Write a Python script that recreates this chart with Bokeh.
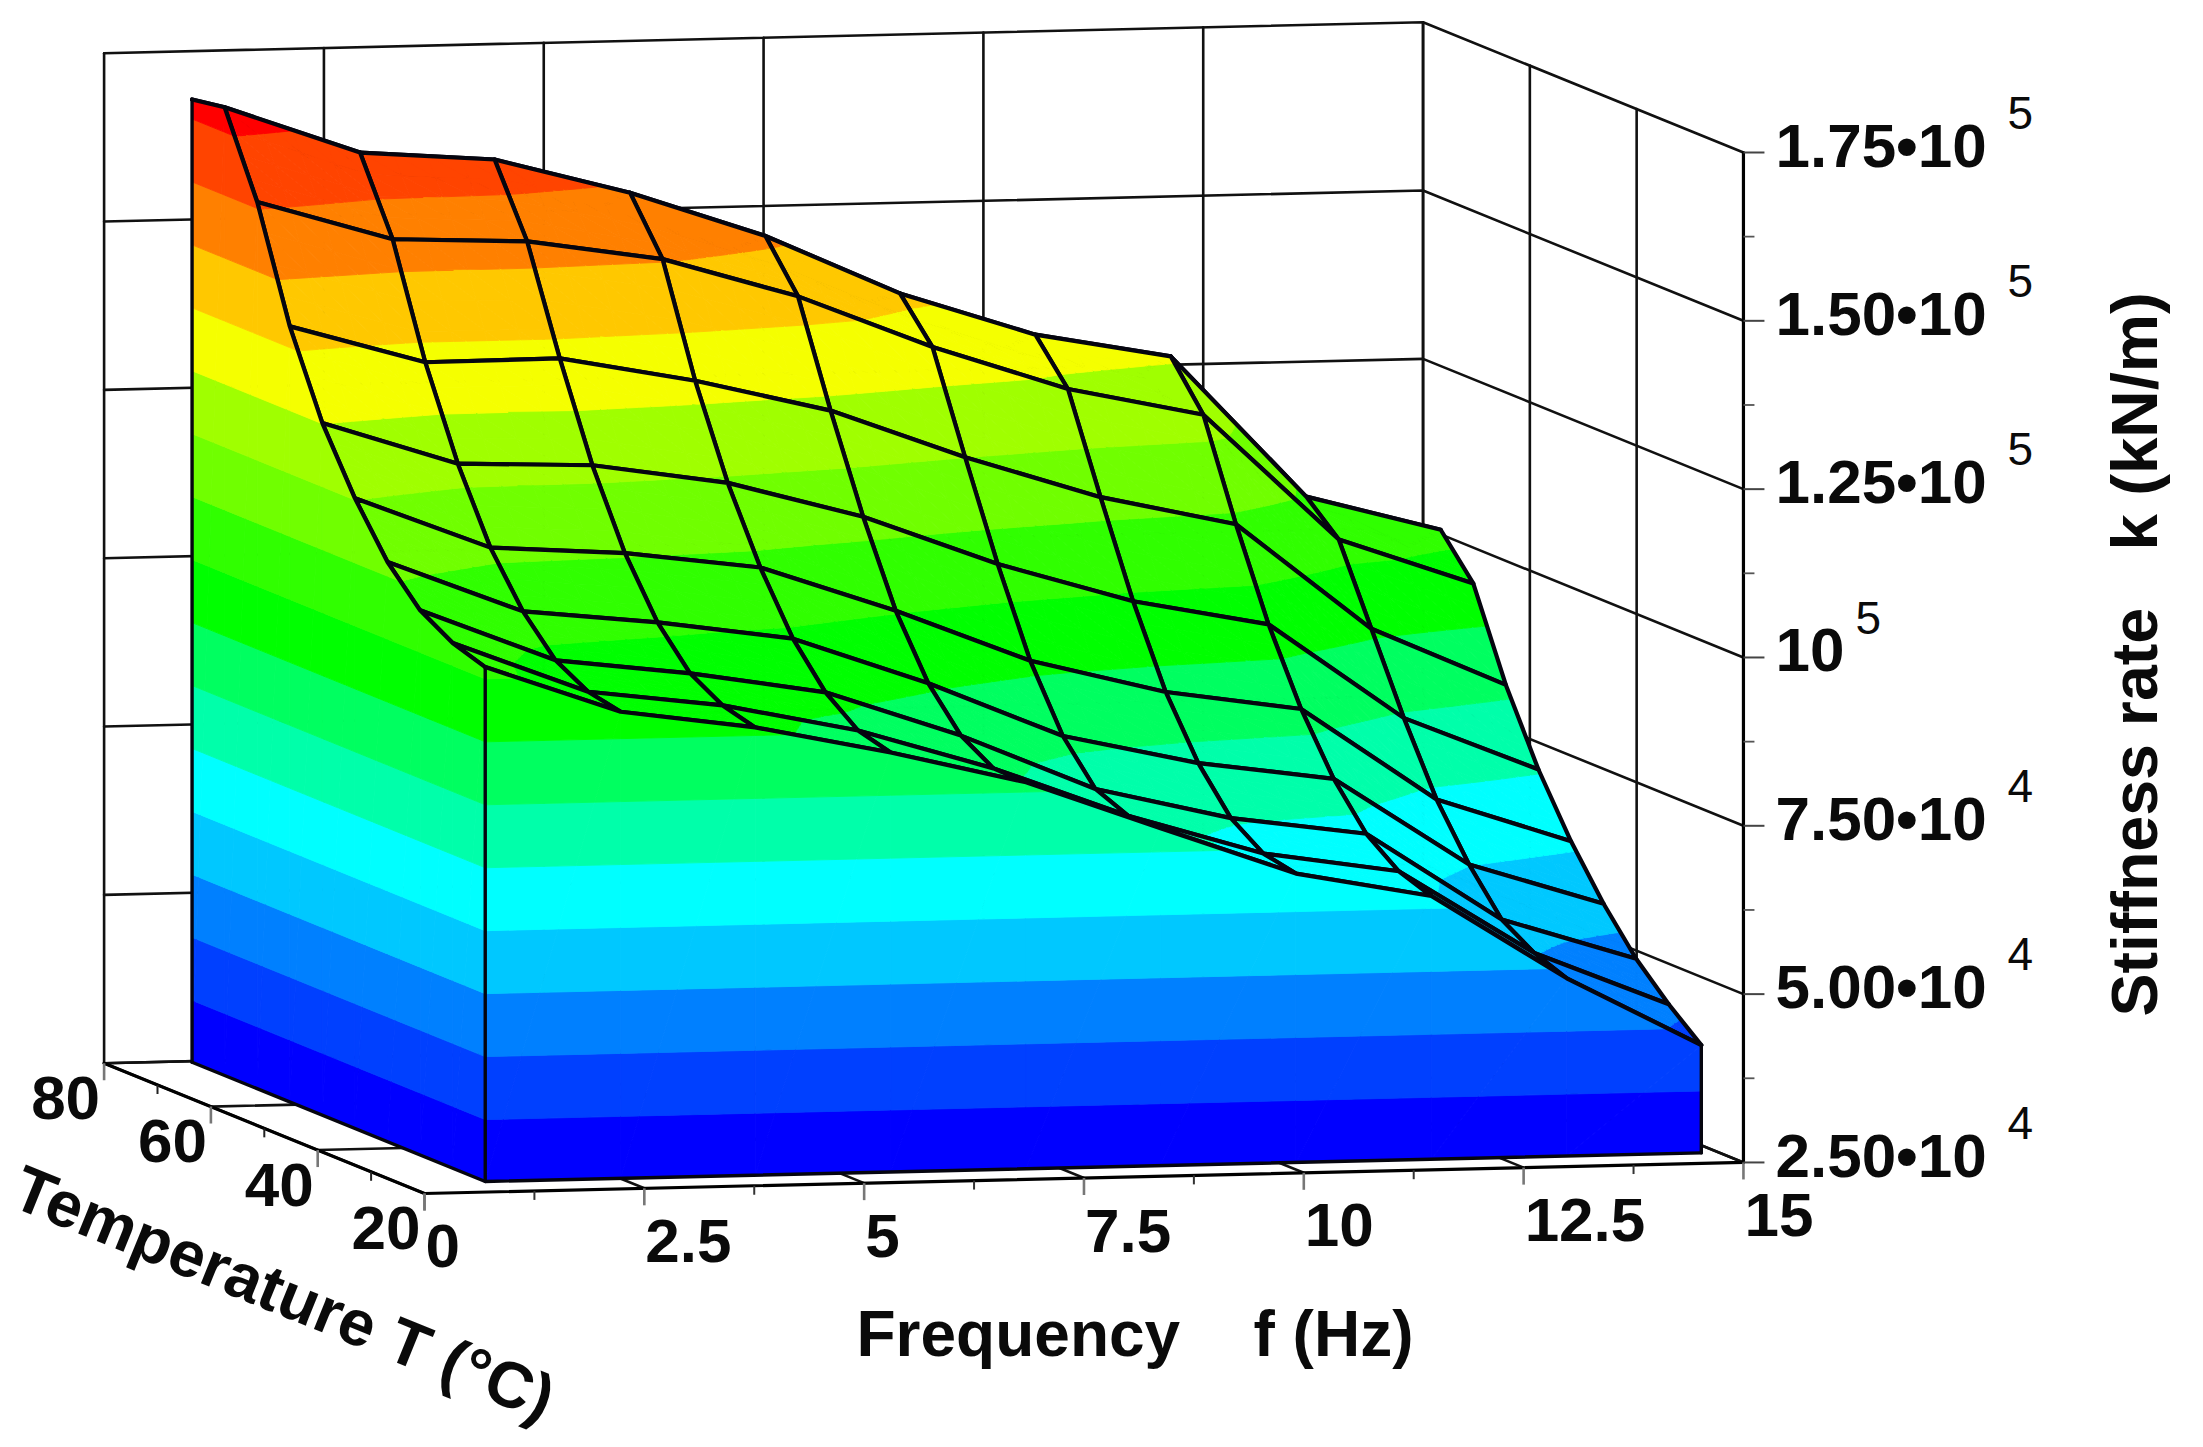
import math
from bokeh.plotting import figure
from bokeh.models import Range1d, ColumnDataSource
from bokeh.core.properties import value
from bokeh.embed import file_html
from bokeh.resources import INLINE

# ---------- data (stiffness rate in 10^4 kN/m) ----------
frequency = [0.97, 2.51, 4.04, 5.58, 7.12, 8.65, 10.19, 11.73, 13.27, 14.80]
temperature = [79.5, 73.4, 67.3, 61.2, 55.1, 49.0, 42.9, 36.8, 30.7, 24.6]
k_T79 = [16.80, 15.77, 15.48, 15.04, 14.38, 13.55, 12.81, 12.38, 10.68, 9.74]
k_T73 = [16.88, 16.16, 16.01, 15.47, 14.78, 13.88, 13.22, 12.85, 10.72, 10.18]
k_T67 = [15.67, 15.07, 14.99, 14.68, 14.08, 13.28, 12.61, 12.18, 10.28, 9.58]
k_T61 = [14.02, 13.44, 13.45, 13.07, 12.58, 11.84, 11.20, 10.75, 9.15, 8.27]
k_T55 = [12.78, 12.13, 12.06, 11.75, 11.20, 10.45, 9.85, 9.46, 8.02, 7.21]
k_T49 = [11.86, 11.08, 10.95, 10.69, 10.00, 9.21, 8.70, 8.40, 7.01, 6.34]
k_T43 = [11.11, 10.33, 10.12, 9.83, 9.12, 8.29, 7.84, 7.56, 6.24, 5.61]
k_T37 = [10.59, 9.80, 9.56, 9.23, 8.54, 7.70, 7.22, 6.94, 5.62, 4.99]
k_T31 = [10.30, 9.53, 9.28, 8.86, 8.25, 7.50, 6.89, 6.58, 5.32, 4.51]
k_T25 = [10.14, 9.43, 9.15, 8.73, 8.24, 7.51, 6.79, 6.41, 5.14, 4.10]
k_rows = [k_T79, k_T73, k_T67, k_T61, k_T55, k_T49, k_T43, k_T37, k_T31, k_T25]

levels = [3.42, 4.355, 5.29, 6.225, 7.16, 8.095, 9.03, 9.965, 10.9, 11.835,
          12.77, 13.705, 14.64, 15.575, 16.51]
band_colors = ["#0000FF", "#0040FF", "#0080FF", "#00C8FF", "#00FFFF", "#00FFAA",
               "#00FF60", "#00FF00", "#30FF00", "#70FF00", "#A0FF00", "#F5FF00",
               "#FFC800", "#FF8000", "#FF4400", "#FF0000"]

freq_ticks = [0, 2.5, 5, 7.5, 10, 12.5, 15]
freq_labels = ["0", "2.5", "5", "7.5", "10", "12.5", "15"]
freq_minor = [1.25, 3.75, 6.25, 8.75, 11.25, 13.75]
temp_ticks = [20, 40, 60, 80]
temp_labels = ["20", "40", "60", "80"]
temp_minor = [30, 50, 70]
k_ticks = [2.5, 5, 7.5, 10, 12.5, 15, 17.5]
k_labels = ["2.50\u202210", "5.00\u202210", "7.50\u202210", "10",
            "1.25\u202210", "1.50\u202210", "1.75\u202210"]
k_exponents = ["4", "4", "4", "5", "5", "5", "5"]
k_minor = [3.75, 6.25, 8.75, 11.25, 13.75, 16.25]

K0, K1 = 2.5, 17.5
F0, F1 = 0, 15
T0, T1 = 20, 80


def project(f, T, k):
    return (424 + 87.93 * f - 5.34 * (T - 20),
            1193 - 2.07 * f - 2.172 * (T - 20) - 67.33 * (k - 2.5))


p = figure(width=2195, height=1439, x_range=Range1d(0, 2195), y_range=Range1d(1439, 0),
           x_axis_type=None, y_axis_type=None, toolbar_location=None,
           output_backend="svg", min_border=0, outline_line_color=None,
           background_fill_color="white", border_fill_color="white")


def lines(segments, color="black", width=2.0):
    xs, ys = [], []
    for seg in segments:
        pts = [project(*q) for q in seg]
        xs.append([a for a, _ in pts])
        ys.append([b for _, b in pts])
    p.multi_line(xs, ys, line_color=color, line_width=width, line_cap="round", line_join="round")


# ---------- box walls and floor ----------
grid = []
for f in freq_ticks:
    grid.append([(f, T1, K0), (f, T1, K1)])
    grid.append([(f, T0, K0), (f, T1, K0)])
for T in [40, 60, 80]:
    grid.append([(F0, T, K0), (F1, T, K0)])
    grid.append([(F1, T, K0), (F1, T, K1)])
for k in k_ticks:
    grid.append([(F0, T1, k), (F1, T1, k), (F1, T0, k)])
lines(grid, "#111111", 2.6)

# ---------- painter's list: filled bands and cell outlines ----------
P_xs, P_ys, P_fill, P_falpha, P_line, P_width = [], [], [], [], [], []


def clip(poly, level, above):
    out = []
    n = len(poly)
    for a in range(n):
        A, B = poly[a], poly[(a + 1) % n]
        ina = (A[2] >= level) if above else (A[2] <= level)
        inb = (B[2] >= level) if above else (B[2] <= level)
        if ina:
            out.append(A)
        if ina != inb:
            t = (level - A[2]) / (B[2] - A[2])
            out.append((A[0] + t * (B[0] - A[0]), A[1] + t * (B[1] - A[1]), level))
    return out


def add_triangle(tri):
    edges = [-1e9] + levels + [1e9]
    for b, col in enumerate(band_colors):
        if max(v[2] for v in tri) < edges[b] or min(v[2] for v in tri) > edges[b + 1]:
            continue
        poly = clip(clip(tri, edges[b], True), edges[b + 1], False)
        if len(poly) >= 3:
            P_xs.append([v[0] for v in poly])
            P_ys.append([v[1] for v in poly])
            P_fill.append(col)
            P_falpha.append(1.0)
            P_line.append(col)
            P_width.append(0.9)


def vertex(f, T, k):
    x, y = project(f, T, k)
    return (x, y, k)


def add_outline(pts):
    P_xs.append([a for a, _ in pts])
    P_ys.append([b for _, b in pts])
    P_fill.append("black")
    P_falpha.append(0.0)
    P_line.append("#05050f")
    P_width.append(4.2)


SUB = 4
for j in range(len(temperature) - 1):
    for i in range(len(frequency) - 2, -1, -1):
        f0, f1 = frequency[i], frequency[i + 1]
        t0, t1 = temperature[j], temperature[j + 1]
        k00, k10 = k_rows[j][i], k_rows[j][i + 1]
        k01, k11 = k_rows[j + 1][i], k_rows[j + 1][i + 1]

        def sv(u, v):
            kv = (1 - u) * (1 - v) * k00 + u * (1 - v) * k10 + (1 - u) * v * k01 + u * v * k11
            return vertex(f0 + u * (f1 - f0), t0 + v * (t1 - t0), kv)

        for a in range(SUB):
            for b in range(SUB):
                u0, u1, v0, v1 = a / SUB, (a + 1) / SUB, b / SUB, (b + 1) / SUB
                add_triangle([sv(u0, v0), sv(u1, v0), sv(u1, v1)])
                add_triangle([sv(u0, v0), sv(u1, v1), sv(u0, v1)])
        add_outline([project(f0, t0, k00), project(f1, t0, k10),
                     project(f1, t1, k11), project(f0, t1, k01)])

# left wall (lowest frequency) and front wall (lowest temperature)
for j in range(len(temperature) - 1):
    f = frequency[0]
    A, B = temperature[j], temperature[j + 1]
    ka, kb = k_rows[j][0], k_rows[j + 1][0]
    add_triangle([vertex(f, A, K0), vertex(f, B, K0), vertex(f, B, kb)])
    add_triangle([vertex(f, A, K0), vertex(f, B, kb), vertex(f, A, ka)])
for i in range(len(frequency) - 1):
    T = temperature[-1]
    A, B = frequency[i], frequency[i + 1]
    ka, kb = k_rows[-1][i], k_rows[-1][i + 1]
    add_triangle([vertex(A, T, K0), vertex(B, T, K0), vertex(B, T, kb)])
    add_triangle([vertex(A, T, K0), vertex(B, T, kb), vertex(A, T, ka)])

src = ColumnDataSource(dict(xs=P_xs, ys=P_ys, fill=P_fill, falpha=P_falpha, line=P_line, width=P_width))
p.patches("xs", "ys", source=src, fill_color="fill", fill_alpha="falpha",
          line_color="line", line_width="width", line_join="round")

# block edges and the surface's two near edges on top of the walls
Fa, Fb = frequency[0], frequency[-1]
Ta, Tb = temperature[0], temperature[-1]
lines([[(Fa, Ta, K0), (Fa, Tb, K0), (Fb, Tb, K0)],
       [(Fa, Ta, K0), (Fa, Ta, k_rows[0][0])],
       [(Fa, Tb, K0), (Fa, Tb, k_rows[-1][0])],
       [(Fb, Tb, K0), (Fb, Tb, k_rows[-1][-1])]], "#05050f", 3.4)
lines([[(Fa, temperature[j], k_rows[j][0]) for j in range(len(temperature))],
       [(frequency[i], Tb, k_rows[-1][i]) for i in range(len(frequency))]], "#05050f", 4.2)

# ---------- axes ----------
lines([[(F0, T1, K0), (F0, T0, K0), (F1, T0, K0), (F1, T0, K1)]], "black", 3.2)


def tick_segments(points, dx, dy):
    xs, ys = [], []
    for q in points:
        x, y = project(*q)
        xs.append([x, x + dx])
        ys.append([y, y + dy])
    return xs, ys


for pts, dx, dy, col, w in [
    ([(f, T0, K0) for f in freq_ticks], 0, 17, "#777777", 2.6),
    ([(f, T0, K0) for f in freq_minor], 0, 9, "#333333", 2.0),
    ([(F0, T, K0) for T in temp_ticks], 0, 17, "#777777", 2.6),
    ([(F0, T, K0) for T in temp_minor], 0, 9, "#222222", 2.0),
    ([(F1, T0, k) for k in k_ticks], 21, 0, "#444444", 2.0),
    ([(F1, T0, k) for k in k_minor], 11, 0, "#555555", 1.8),
]:
    xs, ys = tick_segments(pts, dx, dy)
    p.multi_line(xs, ys, line_color=col, line_width=w)

# ---------- texts ----------
FONT = value("Liberation Sans")
BASELINE_SHIFT = 0.345   # the page draws "alphabetic" text this many em below its anchor


def label(x, y, txt, size, align="left", bold=True, angle=0.0):
    s = BASELINE_SHIFT * size
    p.text([x - s * math.sin(angle)], [y - s * math.cos(angle)], text=[txt], text_font=FONT,
           text_font_size=f"{size}px",
           text_font_style="bold" if bold else "normal", text_align=align,
           text_baseline="alphabetic", angle=angle, text_color="#0a0a0a")


for f, s in zip(freq_ticks, freq_labels):
    x, y = project(f, T0, K0)
    label(x + 1, y + 74, s, 62)
for T, s in zip(temp_ticks, temp_labels):
    x, y = project(F0, T, K0)
    label(x - 4, y + 56, s, 62, align="right")
for k, s, e in zip(k_ticks, k_labels, k_exponents):
    x, y = project(F1, T0, k)
    label(x + 32, y + 14, s, 62)
    label(x + (264 if len(s) > 2 else 112), y - 24, e, 46, bold=False)

label(856, 1356, "Frequency", 64)
label(1253, 1356, "f (Hz)", 64)
label(2157, 1016, "Stiffness rate", 64.5, angle=math.pi / 2)
label(2157, 550, "k (kN/m)", 65.5, angle=math.pi / 2)
label(8, 1205, "Temperature T (\u00b0C)", 64.5, angle=-0.385)

open("out.html", "w").write(file_html(p, INLINE))
